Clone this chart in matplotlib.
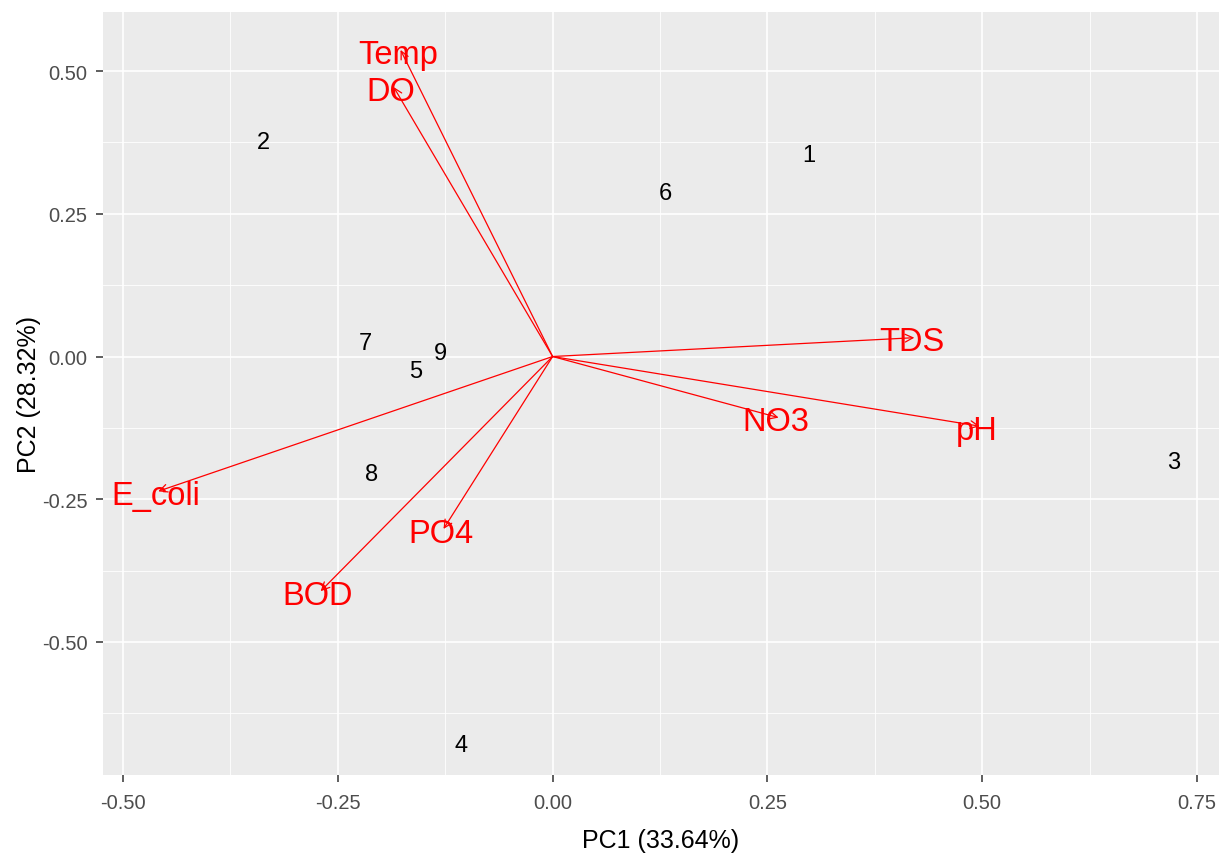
import numpy as np
import matplotlib.pyplot as plt

plt.rcParams['font.family'] = ['Liberation Sans', 'DejaVu Sans']

# sample scores (PC1, PC2)
sample_ids = ["1", "2", "3", "4", "5", "6", "7", "8", "9"]
pc1 = [0.298, -0.337, 0.723, -0.106, -0.159, 0.131, -0.218, -0.211, -0.131]
pc2 = [0.353, 0.376, -0.185, -0.680, -0.026, 0.287, 0.023, -0.205, 0.007]

# variable loadings
var_names = ["Temp", "DO", "TDS", "pH", "NO3", "E_coli", "BOD", "PO4"]
load_x = [-0.177, -0.185, 0.421, 0.497, 0.263, -0.459, -0.270, -0.127]
load_y = [0.537, 0.472, 0.033, -0.122, -0.107, -0.236, -0.411, -0.302]

fig = plt.figure(figsize=(12.19, 8.54), dpi=100)
ax = fig.add_axes([0.0845, 0.0913, 0.9155, 0.8934])
ax.set_facecolor("#EBEBEB")

ax.set_xlim(-0.5233, 0.7756)
ax.set_ylim(-0.733, 0.6033)

ticks = [-0.5, -0.25, 0.0, 0.25, 0.5, 0.75]
ax.set_xticks(ticks)
ax.set_xticklabels(["-0.50", "-0.25", "0.00", "0.25", "0.50", "0.75"])
ax.set_yticks(ticks[:-1])
ax.set_yticklabels(["-0.50", "-0.25", "0.00", "0.25", "0.50"])
ax.set_xticks(np.arange(-0.375, 0.8, 0.25), minor=True)
ax.set_yticks(np.arange(-0.625, 0.6, 0.25), minor=True)
ax.grid(which="major", color="white", lw=1.2)
ax.grid(which="minor", color="white", lw=0.6)
ax.set_axisbelow(True)
for s in ax.spines.values():
    s.set_visible(False)
ax.tick_params(which="major", length=5, width=1.1, color="#333333",
               labelcolor="#4D4D4D", labelsize=14.5, pad=6)
ax.tick_params(axis="x", pad=8)
ax.tick_params(which="minor", length=0)

for i in range(len(var_names)):
    ax.annotate("", xy=(load_x[i], load_y[i]), xytext=(0, 0),
                arrowprops=dict(arrowstyle="->", color="red", lw=0.9,
                                shrinkA=0, shrinkB=0, mutation_scale=14))
    ax.annotate(var_names[i], (load_x[i], load_y[i]), xytext=(-2, -3),
                textcoords="offset points", color="red", fontsize=23.5,
                ha="center", va="center")

for i in range(len(sample_ids)):
    ax.text(pc1[i], pc2[i], sample_ids[i], fontsize=17, ha="center", va="center", color="black")

ax.set_xlabel("PC1 (33.64%)", fontsize=18)
ax.set_ylabel("PC2 (28.32%)", fontsize=18)
ax.xaxis.set_label_coords(0.5, -0.069)
ax.yaxis.set_label_coords(-0.056, 0.5)

fig.savefig("out.png", dpi=100)
